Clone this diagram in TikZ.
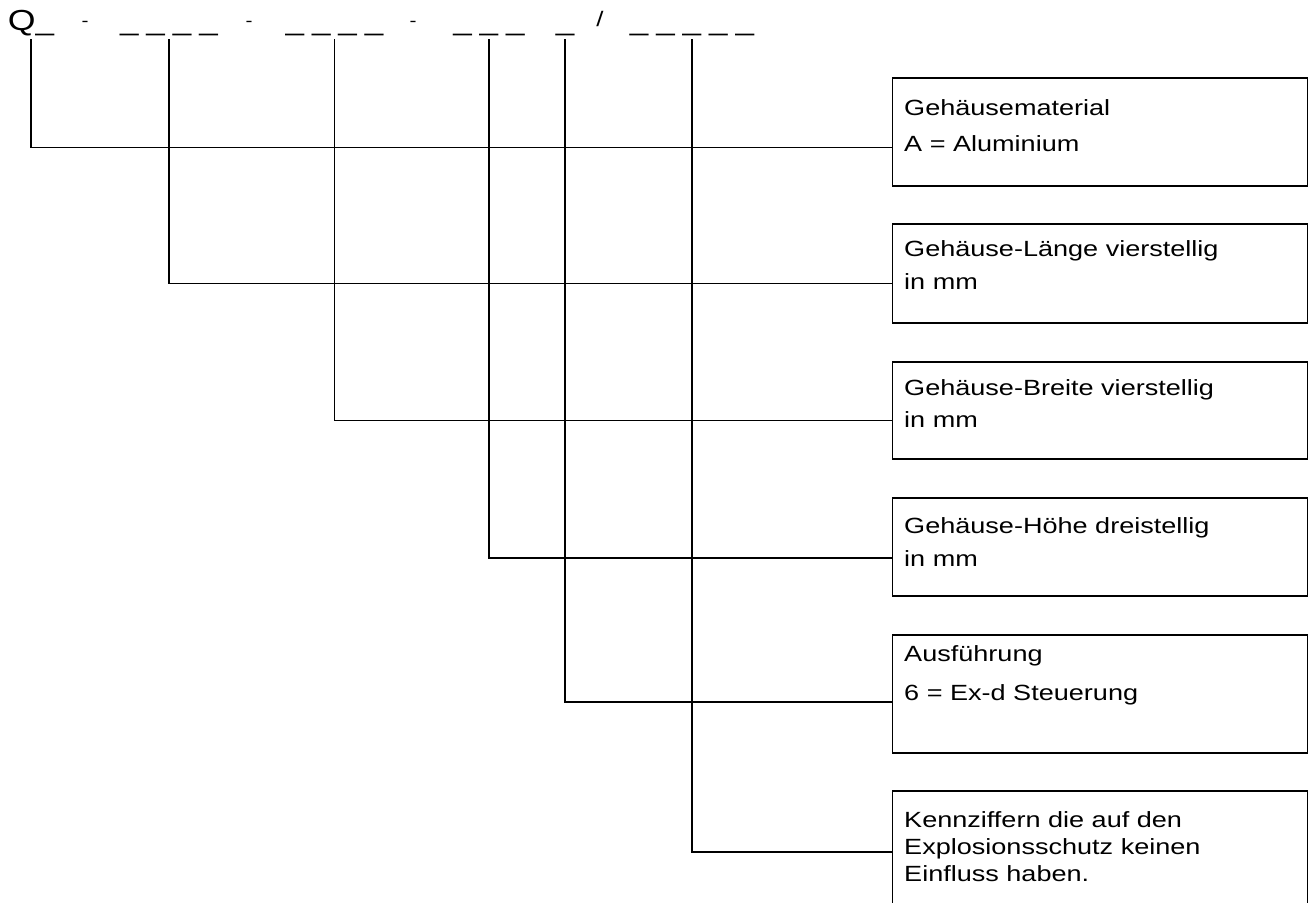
\documentclass[tikz,border=0pt]{standalone}
\usepackage{fontspec}
\setmainfont[FakeStretch=1.23]{Liberation Sans}

\begin{document}
\begin{tikzpicture}[x=1pt, y=-1pt,
  box/.style={draw, line width=1.5pt, anchor=north west,
              minimum width=415pt, inner sep=0pt},
  txt/.style={anchor=base west, align=left, inner sep=0pt,
              font=\fontsize{22}{27}\selectfont},
  code/.style={anchor=base, inner sep=0pt, text depth=9pt,
               font=\fontsize{27}{30}\selectfont},
  sep/.style={anchor=base, inner sep=0pt, font=\fontsize{17}{18}\selectfont},
  conn/.style={line width=1.5pt},
]
  \path[use as bounding box, clip] (0,0) rectangle (1313,902);

  % type code
  \node[code] (q)  at (31,30)    {{\fontsize{29}{30}\selectfont Q}\_};
  \node[sep]  (d1) at (85,26.5)  {-};
  \node[code] (n1) at (169,30)   {\_\kern8pt\_\kern8pt\_\kern8pt\_};
  \node[sep]  (d2) at (249,26.5) {-};
  \node[code] (n2) at (334.5,30) {\_\kern8pt\_\kern8pt\_\kern8pt\_};
  \node[sep]  (d3) at (413,26.5) {-};
  \node[code] (n3) at (489,30)   {\_\kern8pt\_\kern8pt\_};
  \node[code] (n4) at (565,30)   {\_};
  \node[sep, font=\fontsize{21}{24}\selectfont] (sl) at (600,26) {/};
  \node[code] (n5) at (692,30)   {\_\kern8pt\_\kern8pt\_\kern8pt\_\kern8pt\_};

  % boxes
  \node[box, minimum height=108pt] (b1) at (891.5,77)  {};
  \node[box, minimum height=99pt]  (b2) at (891.5,223) {};
  \node[box, minimum height=97pt]  (b3) at (891.5,361) {};
  \node[box, minimum height=98pt]  (b4) at (891.5,497) {};
  \node[box, minimum height=118pt] (b5) at (891.5,634) {};
  \node[box, minimum height=125pt] (b6) at (891.5,790) {};

  % texts (anchored at the baseline of the last line)
  \node[txt] (t1) at (904,151.7) {Gehäusematerial\\[9.7pt]A = Aluminium};
  \node[txt] (t2) at (904,289.3) {Gehäuse-Länge vierstellig\\[5.6pt]in mm};
  \node[txt] (t3) at (904,427.3) {Gehäuse-Breite vierstellig\\[5.3pt]in mm};
  \node[txt] (t4) at (904,566)   {Gehäuse-Höhe dreistellig\\[5.7pt]in mm};
  \node[txt] (t5) at (904,700)   {Ausführung\\[11.3pt]6 = Ex-d Steuerung};
  \node[txt] (t6) at (904,881.7) {Kennziffern die auf den\\Explosionsschutz keinen\\Einfluss haben.};

  % connectors
  \draw[conn] (q.south)  |- (b1.west |- 0,147.5);
  \draw[conn] (n1.south) |- (b2.west |- 0,283.5);
  \draw[conn] (n2.south) |- (b3.west |- 0,420.5);
  \draw[conn] (n3.south) |- (b4.west |- 0,558);
  \draw[conn] (n4.south) |- (b5.west |- 0,702);
  \draw[conn] (n5.south) |- (b6.west |- 0,852);
\end{tikzpicture}
\end{document}
